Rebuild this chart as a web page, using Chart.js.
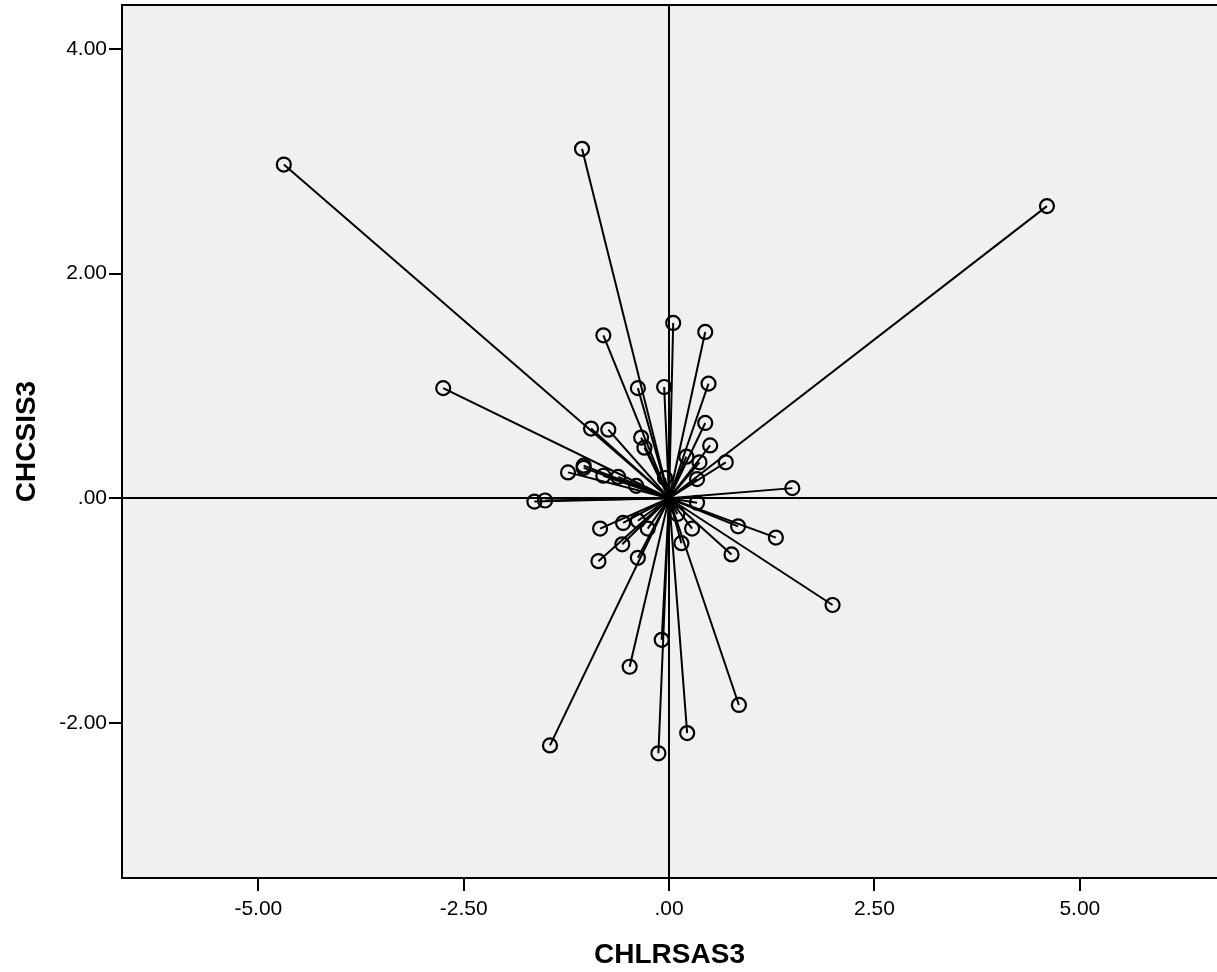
<!DOCTYPE html>
<html>
<head>
<meta charset="utf-8">
<script src="https://cdn.jsdelivr.net/npm/chart.js@4"></script>
<style>body{margin:0;background:#fff}</style>
</head>
<body>
<canvas id="grafico" width="1217" height="972"></canvas>
<script>
// valores
const valoresX = [-4.69, -1.06, 4.60, -2.75, -0.80, 0.05, 0.44, -0.38, -0.06, 0.48,
  -0.95, -0.74, -0.34, -0.30, 0.44, 0.50, 0.21, 0.37, 0.69, 0.34,
  -1.23, -1.04, -1.04, -0.80, -0.62, -0.40, -0.05, 1.50, -1.64, -1.51,
  0.34, -0.84, -0.56, -0.38, -0.26, -0.57, -0.86, -0.38, 0.10, 0.28,
  0.15, 0.84, 0.76, 1.30, 1.99, -0.09, -0.48, 0.85, -1.45, 0.22, -0.13];
const valoresY = [2.97, 3.11, 2.60, 0.98, 1.45, 1.56, 1.48, 0.98, 0.99, 1.02,
  0.62, 0.61, 0.54, 0.45, 0.67, 0.47, 0.37, 0.32, 0.32, 0.17,
  0.23, 0.29, 0.27, 0.20, 0.19, 0.11, 0.18, 0.09, -0.03, -0.02,
  -0.04, -0.27, -0.22, -0.20, -0.27, -0.41, -0.56, -0.53, -0.14, -0.27,
  -0.40, -0.25, -0.50, -0.35, -0.95, -1.26, -1.50, -1.84, -2.20, -2.09, -2.27];
const ticksX = [-5, -2.5, 0, 2.5, 5];
const ticksY = [-2, 0, 2, 4];
const tituloX = 'CHLRSAS3';
const tituloY = 'CHCSIS3';
const centro = { x: 0, y: 0 };

const fuente = 'Liberation Sans, Arial, sans-serif';

function formato(v) {
  let s = Math.abs(v).toFixed(2);
  if (s.startsWith('0')) s = s.slice(1);
  return (v < 0 ? '-' : '') + s;
}

const puntos = valoresX.map((x, i) => ({ x: x, y: valoresY[i] }));

// una linea del centro a cada punto
const lineas = puntos.map(p => ({
  type: 'line',
  data: [centro, p],
  borderColor: '#000',
  borderWidth: 2,
  pointRadius: 0,
  fill: false
}));

const fondo = {
  id: 'fondo',
  beforeDraw(chart) {
    const a = chart.chartArea;
    const ctx = chart.ctx;
    ctx.save();
    ctx.fillStyle = '#f0f0f0';
    ctx.fillRect(a.left, a.top, a.right - a.left, a.bottom - a.top);
    ctx.restore();
  },
  afterDraw(chart) {
    const a = chart.chartArea;
    const ctx = chart.ctx;
    ctx.save();
    ctx.strokeStyle = '#000';
    ctx.lineWidth = 2;
    ctx.beginPath();
    ctx.moveTo(a.left, a.top);
    ctx.lineTo(a.right, a.top);
    ctx.stroke();
    ctx.restore();
  }
};

const rejilla = {
  color: c => (c.tick && c.tick.value === 0 ? '#000' : 'rgba(0,0,0,0)'),
  lineWidth: 2,
  tickColor: '#000',
  tickWidth: 2,
  tickLength: 13
};

function sinRelleno(s) {
  s.paddingLeft = 0;
  s.paddingRight = 0;
  s.paddingTop = 0;
  s.paddingBottom = 0;
}

new Chart(document.getElementById('grafico').getContext('2d'), {
  type: 'scatter',
  data: {
    datasets: [{
      data: puntos,
      pointRadius: 7,
      pointHoverRadius: 7,
      borderColor: '#000',
      borderWidth: 2.2,
      backgroundColor: 'rgba(0,0,0,0)'
    }].concat(lineas)
  },
  options: {
    responsive: false,
    animation: false,
    layout: { autoPadding: false, padding: { top: 5, right: 0, left: 0, bottom: 0 } },
    plugins: { legend: { display: false }, tooltip: { enabled: false } },
    scales: {
      x: {
        type: 'linear',
        min: -6.66,
        max: 6.67,
        afterBuildTicks: s => { s.ticks = ticksX.map(v => ({ value: v })); },
        afterFit: s => { s.height = 94; sinRelleno(s); },
        grid: rejilla,
        border: { color: '#000', width: 2 },
        ticks: { color: '#000', padding: 6, font: { family: fuente, size: 21 }, callback: v => formato(v), maxRotation: 0 },
        title: { display: true, text: tituloX, color: '#000', padding: { top: 0, bottom: 0 }, font: { family: fuente, size: 28, weight: 'bold' } }
      },
      y: {
        type: 'linear',
        min: -3.38,
        max: 4.39,
        afterBuildTicks: s => { s.ticks = ticksY.map(v => ({ value: v })); },
        afterFit: s => { s.width = 122; sinRelleno(s); },
        grid: rejilla,
        border: { color: '#000', width: 2 },
        ticks: { color: '#000', padding: 2, font: { family: fuente, size: 21 }, callback: v => formato(v) },
        title: { display: true, text: tituloY, color: '#000', padding: { top: 10, bottom: 0 }, font: { family: fuente, size: 28, weight: 'bold' } }
      }
    }
  },
  plugins: [fondo]
});
</script>
</body>
</html>
